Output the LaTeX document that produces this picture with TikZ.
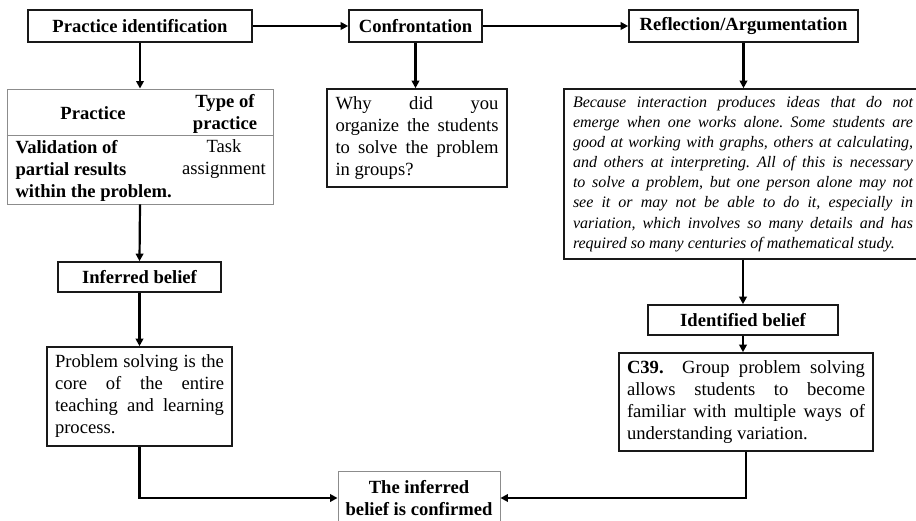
\documentclass[tikz,border=0pt]{standalone}
\usepackage{fontspec}
\setmainfont{Liberation Serif}
\usetikzlibrary{arrows.meta}
\frenchspacing

\begin{document}
\begin{tikzpicture}[x=1pt, y=-1pt,
  txt/.style={font=\fontsize{18.6}{22}\selectfont},
  btxt/.style={font=\bfseries\fontsize{18.6}{22}\selectfont},
  box/.style={draw=black!90, line width=1.6pt, inner sep=0pt, txt},
  headbox/.style={box, btxt, minimum height=32pt},
  parabox/.style={box, align=justify, inner ysep=0pt},
  thinbox/.style={draw=black!45, line width=0.9pt, inner sep=0pt},
  arr/.style={line width=2.2pt, -{Triangle[length=7.5pt,width=7.5pt]}},
  ]
\useasboundingbox (0,0) rectangle (916,521);

% top row of stages
\node[headbox, minimum width=224pt] (pi)   at (140,26)   {Practice identification};
\node[headbox, minimum width=133pt] (conf) at (415.5,26) {Confrontation};
\node[headbox, minimum width=229pt] (refl) at (743.5,26) {Reflection/Argumentation};

% practice table
\node[thinbox, minimum width=266pt, minimum height=115pt] (tbl) at (140,146.5) {};
\coordinate (hl) at (0,135);
\draw[black!45, line width=0.9pt] (tbl.west |- hl) -- (tbl.east |- hl);
\node[btxt] (thpr) at (93,113) {Practice};
\node[btxt, align=center] (thty) at (225,113.5) {Type of\\practice};
\node[btxt, align=left, anchor=west] (tbpr) at (12,170.5) {Validation of\\partial results\\within the problem.};
\node[txt, align=center] (tbty) at (224,159.5) {Task\\assignment};

% confrontation question
\node[parabox, minimum width=180pt, minimum height=98pt, inner xsep=8.5pt, text width=163pt] (why) at (417,138)
  {Why did you\linebreak organize the students\linebreak to solve the problem\linebreak in groups?};

% teacher's argument
\node[parabox, minimum height=170pt, inner xsep=9pt, text width=340pt,
      font=\itshape\fontsize{16}{20.1}\selectfont] (arg) at (743,174)
  {Because interaction produces ideas that do not\linebreak
   emerge when one works alone. Some students are\linebreak
   good at working with graphs, others at calculating,\linebreak
   and others at interpreting. All of this is necessary\linebreak
   to solve a problem, but one person alone may not\linebreak
   see it or may not be able to do it, especially in\linebreak
   variation, which involves so many details and has\linebreak
   required so many centuries of mathematical study.};

% left branch
\node[headbox, minimum width=163pt, minimum height=30pt] (inf) at (139.5,277) {Inferred belief};
\node[parabox, minimum width=185pt, minimum height=99pt, inner xsep=8pt, text width=169pt] (prob) at (139.5,396.5)
  {Problem solving is the\linebreak core of the entire\linebreak teaching and learning\linebreak process.};

% right branch
\node[headbox, minimum width=190pt, minimum height=30pt] (idb) at (743,320) {Identified belief};
\node[parabox, minimum width=254pt, minimum height=98pt, inner xsep=8pt, text width=238pt] (c39) at (746,402)
  {\textbf{C39.}\ \ Group problem solving\linebreak allows students to become\linebreak familiar with multiple ways of\linebreak understanding variation.};

% conclusion
\node[thinbox, btxt, align=center, minimum width=162pt, minimum height=54pt] (cnf) at (419,498)
  {The inferred\\belief is confirmed};

% connectors
\draw[arr] (pi.east) -- (conf.west);
\draw[arr] (conf.east) -- (refl.west);
\draw[arr] (pi.south) -- (tbl.north);
\draw[arr] (conf.south) -- (conf.south |- why.north);
\draw[arr] (refl.south) -- (refl.south |- arg.north);
\draw[arr] (tbl.south) -- (inf.north);
\draw[arr] (inf.south) -- (prob.north);
\draw[arr] (arg.south) -- (idb.north);
\draw[arr] (idb.south) -- (idb.south |- c39.north);
\draw[arr] (prob.south) |- (cnf.west);
\draw[arr] (c39.south) |- (cnf.east);
\end{tikzpicture}
\end{document}
